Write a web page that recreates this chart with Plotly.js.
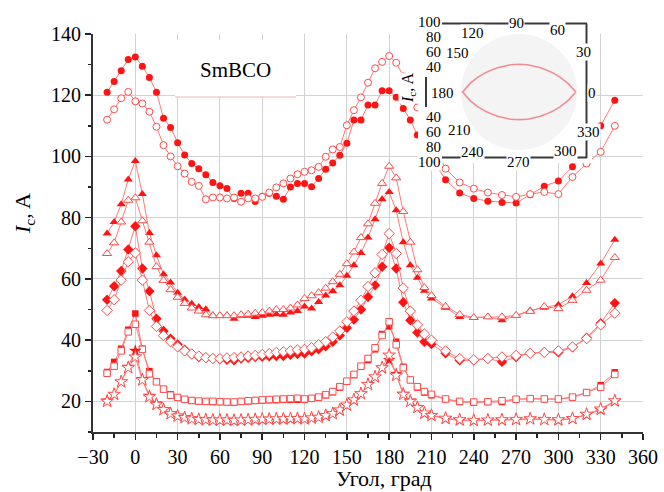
<!DOCTYPE html>
<html>
<head>
<meta charset="utf-8">
<script src="https://cdn.plot.ly/plotly-3.0.1.min.js"></script>
<style>html,body{margin:0;padding:0;background:#fff;}#chart{width:664px;height:492px;}</style>
</head>
<body>
<div id="chart"></div>
<script>
// Angle grid (degrees)
const ANGLE = [-20,-15,-10,-5,0,5,10,15,20,25,30,35,40,45,50,55,60,65,70,75,80,85,90,95,100,105,110,115,120,125,130,135,140,145,150,155,160,165,170,175,180,185,190,195,200,205,210,220,230,240,250,260,270,280,290,300,310,320,330,340];

// Ic (A) series
const circleFilled = [121,124.5,128,131.7,132.5,129.5,125.8,121,112.5,109.5,
  104.5,100.5,97.7,96,94,91.5,90.4,89.5,86.3,88,
  88,85.3,87,88,87,86,90,91.2,91.2,90.1,
  92.8,95.8,97.9,100.4,104.3,111.9,111.9,116.8,116.8,121.5,
  121.5,119.3,115.7,111.9,107,103,99.5,
  92.4,88.1,86.3,85.4,85,84.8,87.5,90.3,92,96.6,103.1,110,118.4];
const circleOpen = [112,115.4,119,121.1,118,117.3,114.6,109.7,103.7,100,
  96.8,94.4,91.7,90.4,86,86.6,86.6,86.3,86.6,85.2,
  86.3,86.3,86.8,88.2,89.9,91.2,92.8,94.2,95,95.5,
  96.6,99.9,102.3,103.1,110.2,115.1,119.3,124.1,128.8,130.9,
  132.8,130.6,126.3,122,116,111,106,
  96,91.5,89.5,88.2,87.4,86.8,87.7,88.4,87.7,93.3,97.7,101.5,110];
const triFilled = [74.8,78.6,84.4,92.5,98.5,87.7,75,67.7,61.5,58.8,
  55.5,53.3,51.9,50.8,50.1,48.1,48,48.1,47,48,
  48,47.6,48,48.3,48.5,48.3,49,49.5,51,50.3,
  52.5,54.6,56,57.9,61,64.5,68.5,73.5,79.5,86,
  88.4,82.4,72,64.5,60.4,56.1,53.6,
  50.6,47.6,47.4,47.6,46.5,48.1,49.7,50.6,51.6,54.3,58.7,65,72.8];
const triOpen = [68.3,71.8,78.6,85.7,86.5,79,72,64,59.5,56.5,
  54,52,50.5,49.5,48.3,48,48,48,48,48.3,
  48.5,48.8,49,49.5,50,50,50.5,51.5,53.6,54.5,
  55.5,57,59.1,61.5,65,68.8,73.5,78,84.7,91.2,
  96.8,93,82,72,63,57.2,54.6,
  51,48.4,47.4,47.6,47.6,48.1,49.4,51,50.3,53,56.3,59.6,67];
const diaFilled = [53.2,57.6,62.6,69.6,77.2,63.4,56,47,43,40.5,
  38.6,36.9,35.4,34.5,34.2,34,33.8,33.6,33.4,34,
  34.2,34.5,34.6,34.7,34.8,34.8,35.2,35.5,35.6,36.4,
  37,38,39.5,41.5,44,46.7,50,54.1,57.9,64,
  70.2,63.4,52.4,46.5,42.5,39.5,38.7,
  35.7,33.4,33.4,34,32.9,34.5,35.7,36,36,37.7,40.8,45.5,52.1];
const diaOpen = [49.7,53.2,59.6,65.6,68.5,59.6,49.7,44.5,41.5,39.5,
  37.8,36.5,35.5,34.8,34.3,34,34,34.2,34.3,34.5,
  34.8,35,35.3,35.6,36,36.2,36.5,36.8,37,37.5,
  38.5,39.5,41,43,46,49.5,53,57.5,62,68,
  74.8,68.3,57,49.5,45,42,40,
  36.5,34,33.6,34,34.5,35,35.7,36,36.5,37.8,40.5,45,48.8];
const sqFilled = [29.6,32.9,37.2,43.4,48.7,37.2,29.9,26.5,24,22.3,
  21.3,20.7,20.3,20,20,19.8,19.8,19.7,19.6,20,
  20,20.2,20.3,20.4,20.4,20.5,20.5,20.5,20.5,21,
  21.2,22,23,24.5,26.4,28.6,31.3,33.5,37,42,
  44.5,39.5,31.3,27,24.5,22.9,22,
  20.7,19.8,19.6,19.8,19.8,20.7,20.9,20.7,20.7,21.3,22.9,25.3,29.5];
const sqOpen = [29.2,31.5,36.5,42.7,45.2,37,29,26.4,24,22,
  21.3,20.7,20.3,20.1,20,20,19.9,19.8,19.8,20,
  20.2,20.3,20.5,20.6,20.7,20.8,20.9,21,20.8,21,
  21.4,22.2,23.2,24.8,26.6,28.8,31.5,34,37.5,41.5,
  46,38.5,31,27,24.8,23.2,22.3,
  20.8,20,19.8,19.9,20.2,20.7,20.9,20.8,20.8,21.4,22.9,24.6,28.8];
const starFilled = [20.3,22.3,26.4,31.3,36.5,27.3,21.8,19.3,17.5,16.2,
  15.3,14.8,14.4,14.1,14,13.9,13.8,13.8,13.6,13.8,
  13.9,14,14,14.1,14.2,14.1,14.2,14.3,14.3,14.5,
  14.8,15.3,16,17,18.7,20.3,22.5,25.7,27.9,30.8,
  33.5,29,22.5,20.3,18.1,16,15.4,
  14.3,13.8,13.6,13.8,13.8,14,14.3,14,13.8,14.3,15.6,17.2,20];
const starOpen = [20,22.3,26.4,31,34.5,27,21.5,19,17.3,16,
  15.2,14.7,14.3,14.1,14,13.9,13.9,13.9,13.8,13.9,
  14,14.1,14.2,14.2,14.3,14.3,14.4,14.4,14.3,14.6,
  14.8,15.4,16,17.2,18.8,20.5,22.5,25.5,28,31,
  35.1,28.5,22.3,20,18,16.2,15.4,
  14.5,14,13.8,13.9,14,14.1,14.3,14.1,14,14.4,15.8,17.5,20.2];

// Inset polar data
const LENS_THETA = [0,10,20,30,40,50,60,70,80,90,100,110,120,130,140,150,160,170,180,190,200,210,220,230,240,250,260,270,280,290,300,310,320,330,340,350,360];
const LENS_R = [103,90,79,70,63,58,54,52,50.5,50,50.5,52,54,58,63,70,79,90,102,90,79,70,63,58,54,52,50.5,50,50.5,52,54,58,63,70,79,90,103];
const RADIAL_LABELS_TOP = ['100','80','60','40'];
const RADIAL_LABELS_BOTTOM = ['40','60','80','100'];
const ANGLE_LABELS = ['0','30','60','90','120','150','180','210','240','270','300','330'];

// ---- layout helpers (pixel -> paper) ----
const L = 93, R = 21, T = 34, B = 60, W = 664, H = 492;
const PW = W - L - R, PH = H - T - B;
const px = v => (v - L) / PW;
const py = v => (H - B - v) / PH;

const FONT = '"Liberation Serif", "Times New Roman", serif';
const LINE_C = '#ff7878', FILL_C = '#ff1414', OPEN_C = '#ff4a4a';

function series(y, symbol, open, size) {
  return {
    type: 'scatter', mode: 'lines+markers', x: ANGLE, y: y,
    line: {color: LINE_C, width: 1},
    marker: open ? {symbol: symbol, size: size, color: '#ffffff', line: {color: OPEN_C, width: 1}}
                 : {symbol: symbol, size: size, color: FILL_C, line: {color: FILL_C, width: 0}},
    showlegend: false, hoverinfo: 'x+y'
  };
}

const traces = [
  series(circleFilled, 'circle', false, 7),
  series(circleOpen, 'circle', true, 7),
  series(triFilled, 'triangle-up', false, 8),
  series(triOpen, 'triangle-up', true, 8),
  series(diaFilled, 'diamond', false, 8),
  series(diaOpen, 'diamond', true, 8),
  series(sqFilled, 'square', false, 6.5),
  series(sqOpen, 'square', true, 6.5),
  series(starFilled, 'star', false, 9.5),
  series(starOpen, 'star', true, 9.5),
  // white backing for the inset (separate overlay subplot)
  {type: 'scatter', x: [0,1,1,0,0], y: [0,0,1,1,0], xaxis: 'x2', yaxis: 'y2', mode: 'lines',
   fill: 'toself', fillcolor: '#ffffff', line: {width: 0, color: '#ffffff'}, hoverinfo: 'skip', showlegend: false},
  {type: 'scatterpolar', theta: LENS_THETA, r: LENS_R, mode: 'lines',
   line: {color: '#f28b96', width: 1.6}, showlegend: false, hoverinfo: 'skip'}
];

const annotations = [];
function lab(text, cx, cy, opts) {
  annotations.push(Object.assign({
    text: text, xref: 'paper', yref: 'paper', x: px(cx), y: py(cy),
    xanchor: 'center', yanchor: 'middle', showarrow: false,
    font: {family: FONT, size: 15, color: '#000'}, bgcolor: '#ffffff', borderpad: 0
  }, opts || {}));
}
// SmBCO label
annotations.push({text: 'SmBCO', xref: 'paper', yref: 'paper', x: px(235.5), y: py(70),
  xanchor: 'center', yanchor: 'middle', showarrow: false, font: {family: FONT, size: 21, color: '#000'}});
// axis titles
annotations.push({text: 'Угол, град', xref: 'paper', yref: 'paper', x: px(384), y: py(478),
  xanchor: 'center', yanchor: 'middle', showarrow: false, font: {family: FONT, size: 22, color: '#000'}});
annotations.push({text: '<i>I</i><sub>c</sub>, A', xref: 'paper', yref: 'paper', x: px(24), y: py(214),
  xanchor: 'center', yanchor: 'middle', textangle: -90, showarrow: false, font: {family: FONT, size: 22, color: '#000'}});

// inset angular labels
const angPos = {'0':[592,93],'30':[583,52],'60':[557,30],'90':[516,23],'120':[472,33],'150':[457,53],
  '180':[442,93],'210':[459,130],'240':[472,152],'270':[518,162],'300':[565,151],'330':[588,132]};
ANGLE_LABELS.forEach(t => lab(t, angPos[t][0], angPos[t][1]));
// inset radial labels (left column, right aligned)
const topY = [22,37,52,67], botY = [117,132,147,162];
RADIAL_LABELS_TOP.forEach((t,i) => lab(t, 442, topY[i], {xanchor: 'right'}));
RADIAL_LABELS_BOTTOM.forEach((t,i) => lab(t, 442, botY[i], {xanchor: 'right'}));
lab('<i>I</i><sub>c</sub>, A', 408, 88, {textangle: -90, font: {family: FONT, size: 16, color: '#000'}});

const frameC = '#3a3a3a';
const shapes = [
  // SmBCO box
  {type: 'rect', xref: 'paper', yref: 'paper', x0: px(175), x1: px(296), y0: py(40), y1: py(97),
   fillcolor: '#ffffff', line: {width: 0}, layer: 'above'},
  {type: 'line', xref: 'paper', yref: 'paper', x0: px(175), x1: px(296), y0: py(97), y1: py(97),
   line: {color: '#f6b3b3', width: 1}, layer: 'above'},
  // inset frame
  {type: 'line', xref: 'paper', yref: 'paper', x0: px(442), x1: px(587), y0: py(23.5), y1: py(23.5), line: {color: frameC, width: 2}, layer: 'above'},
  {type: 'line', xref: 'paper', yref: 'paper', x0: px(586.5), x1: px(586.5), y0: py(23.5), y1: py(158), line: {color: frameC, width: 2}, layer: 'above'},
  {type: 'line', xref: 'paper', yref: 'paper', x0: px(442), x1: px(587), y0: py(157.5), y1: py(157.5), line: {color: frameC, width: 2}, layer: 'above'},
  {type: 'line', xref: 'paper', yref: 'paper', x0: px(426), x1: px(426), y0: py(77), y1: py(107), line: {color: frameC, width: 2}, layer: 'above'}
];

const axisFont = {family: FONT, size: 20, color: '#000'};
const layout = {
  width: W, height: H,
  margin: {l: L, r: R, t: T, b: B, pad: 0},
  paper_bgcolor: '#ffffff', plot_bgcolor: '#ffffff',
  font: {family: FONT, color: '#000'},
  showlegend: false,
  xaxis: {
    range: [-30, 360], tick0: -30, dtick: 30, ticks: 'outside', ticklen: 6, tickwidth: 1.5, tickcolor: '#222',
    showline: true, linecolor: '#333', linewidth: 2, mirror: false,
    showgrid: true, gridcolor: '#d2d2d2', gridwidth: 1, zeroline: false,
    minor: {dtick: 15, tick0: -30, ticks: 'outside', ticklen: 3.5, tickcolor: '#222', showgrid: false},
    tickfont: axisFont, automargin: false
  },
  yaxis: {
    range: [10, 140], tick0: 0, dtick: 20, ticks: 'outside', ticklen: 6, tickwidth: 1.5, tickcolor: '#222',
    showline: true, linecolor: '#333', linewidth: 2, mirror: false,
    showgrid: true, gridcolor: '#d2d2d2', gridwidth: 1, zeroline: false,
    minor: {dtick: 10, tick0: 0, ticks: 'outside', ticklen: 3.5, tickcolor: '#222', showgrid: false},
    tickfont: axisFont, automargin: false
  },
  xaxis2: {domain: [px(418), px(592)], range: [0, 1], visible: false, fixedrange: true},
  yaxis2: {domain: [py(163), 1], range: [0, 1], visible: false, fixedrange: true},
  polar: {
    domain: {x: [px(461), px(577)], y: [py(150), 1]},
    bgcolor: '#f4f4f4',
    radialaxis: {range: [0, 105], showline: false, showticklabels: false, showgrid: false, ticks: ''},
    angularaxis: {showline: false, showticklabels: false, showgrid: false, ticks: ''}
  },
  annotations: annotations,
  shapes: shapes
};

Plotly.newPlot('chart', traces, layout, {displayModeBar: false, staticPlot: true});
</script>
</body>
</html>
